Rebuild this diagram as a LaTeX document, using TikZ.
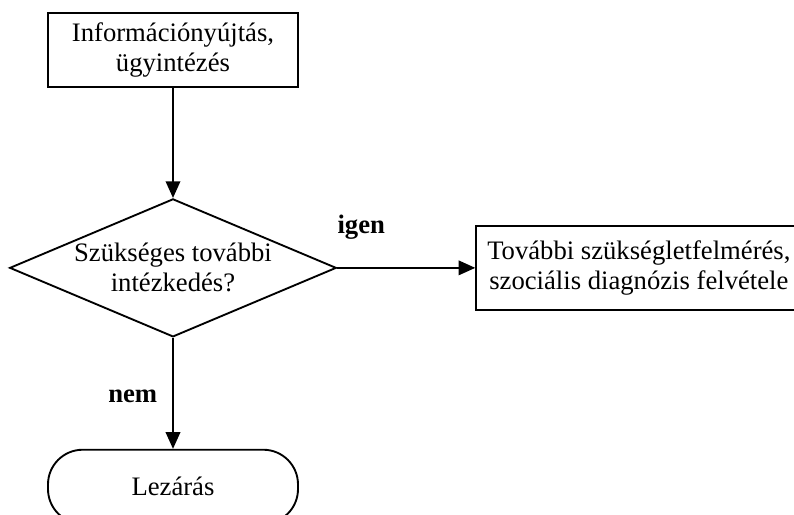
\documentclass[tikz,border=0pt]{standalone}
\usepackage{fontspec}
\setmainfont{Liberation Serif}
\usepackage{tikz}
\usetikzlibrary{arrows.meta,shapes,positioning}
\tikzset{
	basic/.style= {draw, line width=1.4pt, align=center, font=\fontsize{20}{22.5}\selectfont},
	process/.style = {basic, rectangle, minimum width=187.5pt, minimum height=55.5pt},
	wide/.style = {basic, rectangle, minimum width=244pt, minimum height=63pt},
	decision/.style = {basic, diamond, aspect=2.37, inner sep=0pt, minimum width=245pt, minimum height=103.5pt},
	terminal/.style = {basic, rectangle, rounded corners=26pt, minimum width=187.5pt, minimum height=55.5pt},
	answer/.style = {font=\fontsize{20}{22.5}\selectfont\bfseries},
	flow/.style = {-{Triangle[length=12.5pt,width=11pt]}, line width=1.1pt}
}

\begin{document}
\begin{tikzpicture}[x=0.75pt, y=-0.75pt]
	
	% frame of the page
	\useasboundingbox (0,0) rectangle (794,515);
	\clip (0,0) rectangle (794,515);
	
	% the steps, from the first one down
	\node[process] (info) at (173,50) {Információnyújtás,\\ügyintézés};
	\node[decision, below=82.5pt of info] (kell) {Szükséges további\\intézkedés?};
	\node[wide, right=103.5pt of kell] (felmeres) {További szükségletfelmérés,\\szociális diagnózis felvétele};
	\node[terminal, below=83.25pt of kell] (lezaras) {Lezárás};
	
	% connectors with the answers
	\draw[flow] (info) -- (kell);
	\draw[flow] (kell) -- node[answer, pos=0.174, above=17.8pt] (igen) {igen} (felmeres);
	\draw[flow] (kell) -- node[answer, pos=0.53, left=8pt] (nem) {nem} (lezaras);
\end{tikzpicture}
\end{document}
